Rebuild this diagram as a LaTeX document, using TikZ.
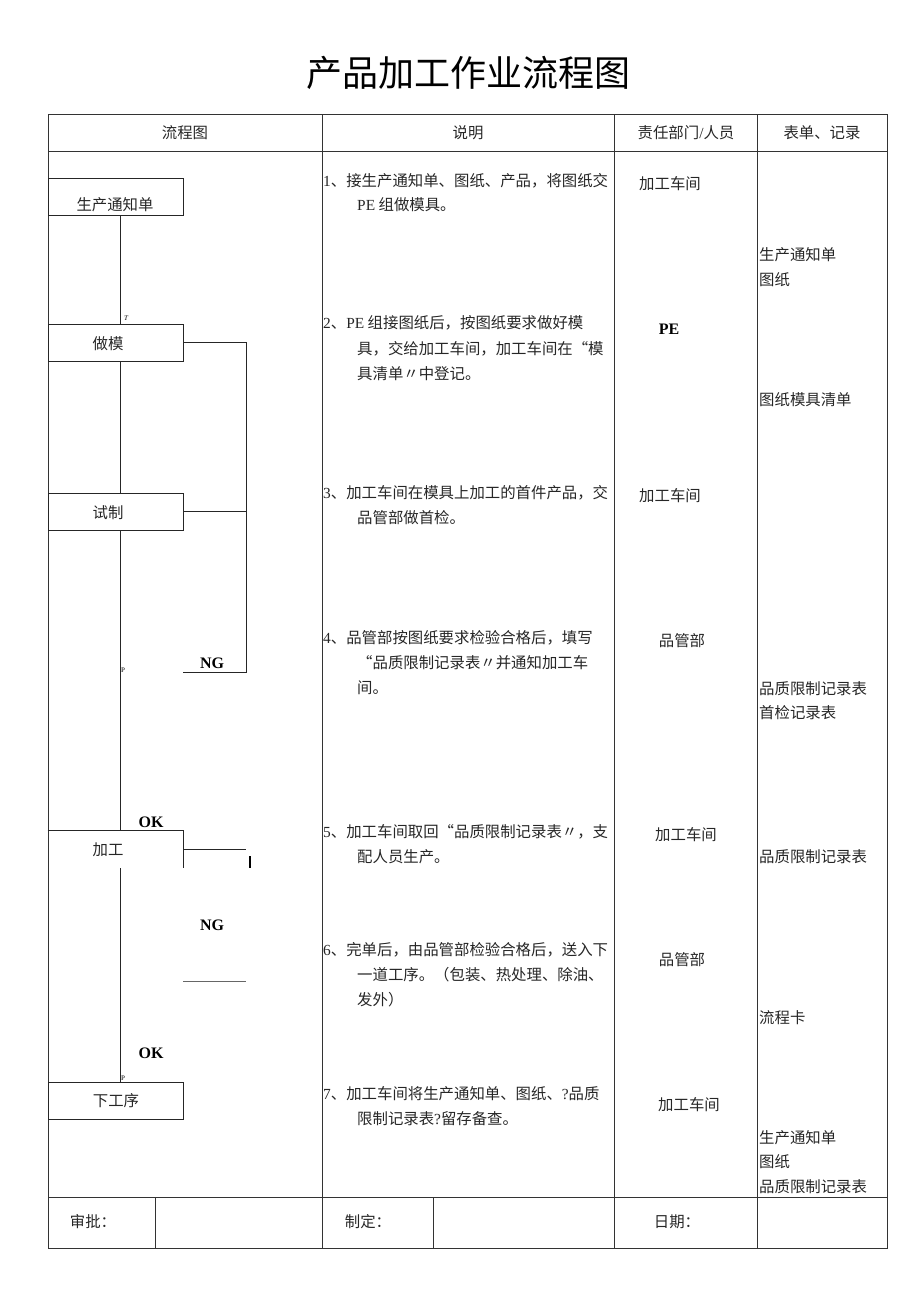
\documentclass[tikz,border=0pt]{standalone}
\usepackage{fontspec}
\setmainfont{Noto Sans CJK SC}
\newfontfamily\lat{Liberation Serif}
\tikzset{
  tbl/.style={draw=black!80, line width=0.8pt},
  conn/.style={draw=black!85, line width=0.8pt},
  fbox/.style={draw=black!85, line width=0.8pt, rectangle, minimum width=135pt, minimum height=37pt, inner sep=0pt},
  txt/.style={inner sep=0pt, text=black!85, font=\fontsize{15.4}{18}\selectfont},
  lt/.style={txt, anchor=west},
  big/.style={inner sep=0pt, text=black, font=\lat\bfseries\fontsize{16}{16}\selectfont},
  tiny/.style={inner sep=0pt, text=black, font=\lat\fontsize{7}{7}\selectfont},
}
\begin{document}
\begin{tikzpicture}[x=1pt,y=-1pt]
\useasboundingbox (0,0) rectangle (920,1301);
% title
\node[inner sep=0pt, font=\fontsize{36}{36}\selectfont] (title) at (468,73) {产品加工作业流程图};
% table frame
\draw[tbl] (48,114) rectangle (887,1248);
\draw[tbl] (48,151) -- (887,151);
\draw[tbl] (48,1197) -- (887,1197);
\draw[tbl] (322,114) -- (322,1248);
\draw[tbl] (614,114) -- (614,1248);
\draw[tbl] (757,114) -- (757,1248);
\draw[tbl] (155,1197) -- (155,1248);
\draw[tbl] (433,1197) -- (433,1248);
% header
\node[txt] (h1) at (185,133) {流程图};
\node[txt] (h2) at (468,133) {说明};
\node[txt] (h3) at (686,133) {责任部门{\lat /}人员};
\node[txt] (h4) at (822,133) {表单、记录};
% flow boxes
\coordinate (spine) at (120,0);
\node[fbox] (b1) at (115.5,197) {};
\node[txt] (t1) at (115,205) {生产通知单};
\node[fbox] (b2) at (115.5,342.5) {};
\node[txt] (t2) at (108,344) {做模};
\node[fbox] (b3) at (115.5,511.5) {};
\node[txt] (t3) at (108,513) {试制};
\node[fbox, draw=none] (b4) at (115.5,849.5) {};
\draw[conn] (b4.north west) -- (b4.north east) -- (b4.south east);
\node[txt] (t4) at (108,850) {加工};
\node[fbox] (b5) at (115.5,1100.5) {};
\node[txt] (t5) at (116,1101) {下工序};
% spine connectors
\draw[conn] (b1.south -| spine) -- (b2.north -| spine);
\draw[conn] (b2.south -| spine) -- (b3.north -| spine);
\draw[conn] (b3.south -| spine) -- (b4.north -| spine);
\draw[conn] (b4.south -| spine) -- (b5.north -| spine);
\node[tiny, font=\lat\itshape\fontsize{7}{7}\selectfont] (tT) at (126,318) {T};
\node[tiny] (tP1) at (123,670) {P};
\node[tiny] (tP2) at (123,1078) {P};
% NG loop 1
\coordinate (ng1a) at (246,345);
\coordinate (ng1b) at (246,672);
\coordinate (ng1c) at (183,672);
\draw[conn] (b2.east) -- (b2.east -| ng1a) -- (ng1b) -- (ng1c);
\draw[conn] (b3.east) -- (b3.east -| ng1a);
\node[big] (ng1) at (212,663) {NG};
% NG loop 2
\coordinate (ng2a) at (246,849);
\draw[conn] (b4.east) -- (b4.east -| ng2a);
\coordinate (tk1) at (250,856);
\coordinate (tk2) at (250,868);
\draw[line width=2pt] (tk1) -- (tk2);
\node[big] (ng2) at (212,925) {NG};
\coordinate (ng2b) at (183,981);
\coordinate (ng2c) at (246,981);
\draw[draw=black!60, line width=0.8pt] (ng2b) -- (ng2c);
\node[big] (ok1) at (151,822) {OK};
\node[big] (ok2) at (151,1053) {OK};
% description
\node[lt] (d11) at (323,181) {{\lat 1}、接生产通知单、图纸、产品，将图纸交};
\node[lt] (d12) at (357,205) {{\lat PE} 组做模具。};
\node[lt] (d21) at (323,323) {{\lat 2}、{\lat PE} 组接图纸后，按图纸要求做好模};
\node[lt] (d22) at (357,349) {具，交给加工车间，加工车间在“模};
\node[lt] (d23) at (357,374) {具清单〃中登记。};
\node[lt] (d31) at (323,493) {{\lat 3}、加工车间在模具上加工的首件产品，交};
\node[lt] (d32) at (357,518) {品管部做首检。};
\node[lt] (d41) at (323,638) {{\lat 4}、品管部按图纸要求检验合格后，填写};
\node[lt] (d42) at (357,663) {“品质限制记录表〃并通知加工车};
\node[lt] (d43) at (357,688) {间。};
\node[lt] (d51) at (323,832) {{\lat 5}、加工车间取回“品质限制记录表〃，支};
\node[lt] (d52) at (357,857) {配人员生产。};
\node[lt] (d61) at (323,950) {{\lat 6}、完单后，由品管部检验合格后，送入下};
\node[lt] (d62) at (357,975) {一道工序。（包装、热处理、除油、};
\node[lt] (d63) at (357,1000) {发外）};
\node[lt] (d71) at (323,1094) {{\lat 7}、加工车间将生产通知单、图纸、{\lat ?}品质};
\node[lt] (d72) at (357,1119) {限制记录表{\lat ?}留存备查。};
% responsibility
\node[txt] (r1) at (670,184) {加工车间};
\node[big] (r2) at (669,329) {PE};
\node[txt] (r3) at (670,496) {加工车间};
\node[txt] (r4) at (682,641) {品管部};
\node[txt] (r5) at (686,835) {加工车间};
\node[txt] (r6) at (682,960) {品管部};
\node[txt] (r7) at (689,1105) {加工车间};
% records
\node[lt] (f1) at (759,255) {生产通知单};
\node[lt] (f2) at (759,280) {图纸};
\node[lt] (f3) at (759,400) {图纸模具清单};
\node[lt] (f4) at (759,689) {品质限制记录表};
\node[lt] (f5) at (759,713) {首检记录表};
\node[lt] (f6) at (759,857) {品质限制记录表};
\node[lt] (f7) at (759,1018) {流程卡};
\node[lt] (f8) at (759,1138) {生产通知单};
\node[lt] (f9) at (759,1162) {图纸};
\node[lt] (f10) at (759,1187) {品质限制记录表};
% footer
\node[txt] (s1) at (93,1222) {审批：};
\node[txt] (s2) at (368,1222) {制定：};
\node[txt] (s3) at (677,1222) {日期：};
\end{tikzpicture}
\end{document}
